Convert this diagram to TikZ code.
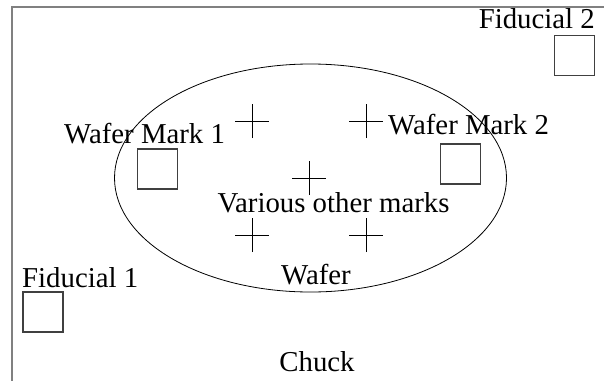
\documentclass[tikz,border=0pt]{standalone}
\usepackage{fontspec}
\setmainfont{Liberation Serif}
\usetikzlibrary{shapes.geometric}
\begin{document}
\begin{tikzpicture}[x=1pt,y=-1pt,
  lbl/.style={inner sep=0pt,font=\fontsize{28.8}{31}\selectfont},
  markbox/.style={draw=black!75,line width=1.2pt,inner sep=0pt,minimum width=40pt,minimum height=40pt},
  crossline/.style={draw=black,line width=0.9pt},
  frameline/.style={draw=black!50,line width=2pt}]
\useasboundingbox (0,0) rectangle (604,380);
% chuck frame
\coordinate (ftl) at (12,6.5);
\coordinate (ftr) at (605,6.5);
\coordinate (fbl) at (12,381);
\draw[frameline] (ftr) -- (ftl) -- (fbl);
% wafer
\node[draw=black,line width=0.8pt,ellipse,minimum width=392pt,minimum height=228pt,inner sep=0pt] (wafer) at (310.5,178) {};
% boxes
\node[markbox] (f2) at (574.5,55.5) {};
\node[markbox] (f1) at (43,312) {};
\node[markbox] (w1) at (157.5,169) {};
\node[markbox] (w2) at (460.5,164) {};
% labels
\node[lbl,anchor=base east] (tf2) at (595,28) {Fiducial 2};
\node[lbl,anchor=base west] (tf1) at (22,287) {Fiducial 1};
\node[lbl,anchor=base west] (tw1) at (64,143) {Wafer Mark 1};
\node[lbl,anchor=base west] (tw2) at (388,134) {Wafer Mark 2};
\node[lbl,anchor=base] (tvar) at (333.5,212) {Various other marks};
\node[lbl,anchor=base] (twafer) at (316,284) {Wafer};
\node[lbl,anchor=base] (tchuck) at (317,371) {Chuck};
% crosses
\foreach \n/\cx/\cy in {ca/252/121,cb/366/121,cc/309/178,cd/252/235,ce/366/235}{
  \coordinate (\n) at (\cx,\cy);
  \draw[crossline] ([xshift=-17pt]\n) -- ([xshift=17pt]\n);
  \draw[crossline] ([yshift=-17pt]\n) -- ([yshift=17pt]\n);
}
\end{tikzpicture}
\end{document}
